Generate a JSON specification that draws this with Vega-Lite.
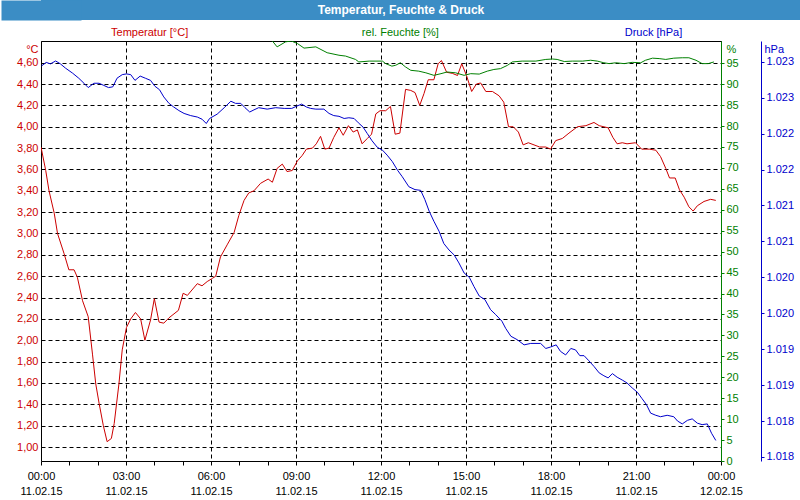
{
  "$schema": "https://vega.github.io/schema/vega-lite/v6.json",
  "padding": 0,
  "autosize": {"type": "pad"},
  "background": "white",
  "spacing": 0,
  "config": {
    "font": "Liberation Sans",
    "view": {"stroke": null},
    "axis": {"labelFont": "Liberation Sans", "labelFontSize": 11, "titleFont": "Liberation Sans", "titleFontSize": 11, "titleFontWeight": "normal"}
  },
  "datasets": {
    "temp": [
      {"t": "2015-02-11T00:00Z", "v": 3.81}, {"t": "2015-02-11T00:10Z", "v": 3.59}, {"t": "2015-02-11T00:17Z", "v": 3.40},
      {"t": "2015-02-11T00:28Z", "v": 3.19}, {"t": "2015-02-11T00:35Z", "v": 3.00}, {"t": "2015-02-11T00:49Z", "v": 2.81},
      {"t": "2015-02-11T00:59Z", "v": 2.66}, {"t": "2015-02-11T01:10Z", "v": 2.66}, {"t": "2015-02-11T01:17Z", "v": 2.59},
      {"t": "2015-02-11T01:28Z", "v": 2.37}, {"t": "2015-02-11T01:40Z", "v": 2.22}, {"t": "2015-02-11T01:49Z", "v": 1.87},
      {"t": "2015-02-11T01:56Z", "v": 1.59}, {"t": "2015-02-11T02:03Z", "v": 1.41}, {"t": "2015-02-11T02:12Z", "v": 1.20},
      {"t": "2015-02-11T02:20Z", "v": 1.05}, {"t": "2015-02-11T02:29Z", "v": 1.08}, {"t": "2015-02-11T02:35Z", "v": 1.22},
      {"t": "2015-02-11T02:45Z", "v": 1.59}, {"t": "2015-02-11T02:52Z", "v": 1.91}, {"t": "2015-02-11T03:01Z", "v": 2.12},
      {"t": "2015-02-11T03:10Z", "v": 2.20}, {"t": "2015-02-11T03:20Z", "v": 2.26}, {"t": "2015-02-11T03:31Z", "v": 2.20},
      {"t": "2015-02-11T03:40Z", "v": 2.00}, {"t": "2015-02-11T03:52Z", "v": 2.19}, {"t": "2015-02-11T04:00Z", "v": 2.39},
      {"t": "2015-02-11T04:10Z", "v": 2.17}, {"t": "2015-02-11T04:20Z", "v": 2.16}, {"t": "2015-02-11T04:31Z", "v": 2.21},
      {"t": "2015-02-11T04:51Z", "v": 2.28}, {"t": "2015-02-11T05:01Z", "v": 2.44}, {"t": "2015-02-11T05:10Z", "v": 2.42},
      {"t": "2015-02-11T05:31Z", "v": 2.53}, {"t": "2015-02-11T05:41Z", "v": 2.51}, {"t": "2015-02-11T05:52Z", "v": 2.55},
      {"t": "2015-02-11T06:03Z", "v": 2.58}, {"t": "2015-02-11T06:10Z", "v": 2.60}, {"t": "2015-02-11T06:20Z", "v": 2.78},
      {"t": "2015-02-11T06:35Z", "v": 2.90}, {"t": "2015-02-11T06:49Z", "v": 3.01}, {"t": "2015-02-11T06:59Z", "v": 3.17},
      {"t": "2015-02-11T07:10Z", "v": 3.31}, {"t": "2015-02-11T07:20Z", "v": 3.38}, {"t": "2015-02-11T07:31Z", "v": 3.40},
      {"t": "2015-02-11T07:45Z", "v": 3.47}, {"t": "2015-02-11T08:01Z", "v": 3.51}, {"t": "2015-02-11T08:10Z", "v": 3.48},
      {"t": "2015-02-11T08:20Z", "v": 3.61}, {"t": "2015-02-11T08:31Z", "v": 3.65}, {"t": "2015-02-11T08:41Z", "v": 3.58},
      {"t": "2015-02-11T08:52Z", "v": 3.59}, {"t": "2015-02-11T09:03Z", "v": 3.68}, {"t": "2015-02-11T09:13Z", "v": 3.73},
      {"t": "2015-02-11T09:22Z", "v": 3.79}, {"t": "2015-02-11T09:35Z", "v": 3.80}, {"t": "2015-02-11T09:43Z", "v": 3.84},
      {"t": "2015-02-11T09:52Z", "v": 3.91}, {"t": "2015-02-11T10:01Z", "v": 3.79}, {"t": "2015-02-11T10:10Z", "v": 3.80},
      {"t": "2015-02-11T10:20Z", "v": 3.90}, {"t": "2015-02-11T10:31Z", "v": 3.99}, {"t": "2015-02-11T10:40Z", "v": 3.92},
      {"t": "2015-02-11T10:51Z", "v": 4.01}, {"t": "2015-02-11T11:01Z", "v": 3.95}, {"t": "2015-02-11T11:10Z", "v": 3.97},
      {"t": "2015-02-11T11:20Z", "v": 3.84}, {"t": "2015-02-11T11:31Z", "v": 3.89}, {"t": "2015-02-11T11:40Z", "v": 3.93},
      {"t": "2015-02-11T11:49Z", "v": 4.12}, {"t": "2015-02-11T11:58Z", "v": 4.15}, {"t": "2015-02-11T12:10Z", "v": 4.15},
      {"t": "2015-02-11T12:20Z", "v": 4.19}, {"t": "2015-02-11T12:30Z", "v": 3.93}, {"t": "2015-02-11T12:40Z", "v": 3.94},
      {"t": "2015-02-11T12:52Z", "v": 4.35}, {"t": "2015-02-11T13:03Z", "v": 4.34}, {"t": "2015-02-11T13:12Z", "v": 4.32},
      {"t": "2015-02-11T13:22Z", "v": 4.20}, {"t": "2015-02-11T13:31Z", "v": 4.31}, {"t": "2015-02-11T13:40Z", "v": 4.44},
      {"t": "2015-02-11T13:52Z", "v": 4.44}, {"t": "2015-02-11T14:01Z", "v": 4.59}, {"t": "2015-02-11T14:08Z", "v": 4.62},
      {"t": "2015-02-11T14:19Z", "v": 4.51}, {"t": "2015-02-11T14:31Z", "v": 4.50}, {"t": "2015-02-11T14:42Z", "v": 4.48},
      {"t": "2015-02-11T14:51Z", "v": 4.59}, {"t": "2015-02-11T15:01Z", "v": 4.48}, {"t": "2015-02-11T15:12Z", "v": 4.33},
      {"t": "2015-02-11T15:22Z", "v": 4.40}, {"t": "2015-02-11T15:31Z", "v": 4.41}, {"t": "2015-02-11T15:42Z", "v": 4.33},
      {"t": "2015-02-11T15:56Z", "v": 4.33}, {"t": "2015-02-11T16:10Z", "v": 4.29}, {"t": "2015-02-11T16:20Z", "v": 4.23},
      {"t": "2015-02-11T16:30Z", "v": 4.00}, {"t": "2015-02-11T16:40Z", "v": 4.00}, {"t": "2015-02-11T16:51Z", "v": 3.95},
      {"t": "2015-02-11T17:01Z", "v": 3.83}, {"t": "2015-02-11T17:12Z", "v": 3.85}, {"t": "2015-02-11T17:24Z", "v": 3.83},
      {"t": "2015-02-11T17:36Z", "v": 3.81}, {"t": "2015-02-11T17:49Z", "v": 3.81}, {"t": "2015-02-11T17:59Z", "v": 3.79},
      {"t": "2015-02-11T18:10Z", "v": 3.87}, {"t": "2015-02-11T18:24Z", "v": 3.89}, {"t": "2015-02-11T18:38Z", "v": 3.94},
      {"t": "2015-02-11T18:56Z", "v": 4.00}, {"t": "2015-02-11T19:14Z", "v": 4.01}, {"t": "2015-02-11T19:31Z", "v": 4.04},
      {"t": "2015-02-11T19:42Z", "v": 4.01}, {"t": "2015-02-11T20:01Z", "v": 3.99}, {"t": "2015-02-11T20:11Z", "v": 3.90},
      {"t": "2015-02-11T20:20Z", "v": 3.84}, {"t": "2015-02-11T20:31Z", "v": 3.85}, {"t": "2015-02-11T20:41Z", "v": 3.84},
      {"t": "2015-02-11T20:59Z", "v": 3.85}, {"t": "2015-02-11T21:12Z", "v": 3.79}, {"t": "2015-02-11T21:28Z", "v": 3.79},
      {"t": "2015-02-11T21:42Z", "v": 3.78}, {"t": "2015-02-11T21:52Z", "v": 3.72}, {"t": "2015-02-11T22:03Z", "v": 3.61},
      {"t": "2015-02-11T22:11Z", "v": 3.52}, {"t": "2015-02-11T22:23Z", "v": 3.52}, {"t": "2015-02-11T22:32Z", "v": 3.41},
      {"t": "2015-02-11T22:42Z", "v": 3.34}, {"t": "2015-02-11T22:52Z", "v": 3.25}, {"t": "2015-02-11T23:01Z", "v": 3.21},
      {"t": "2015-02-11T23:10Z", "v": 3.26}, {"t": "2015-02-11T23:24Z", "v": 3.30}, {"t": "2015-02-11T23:38Z", "v": 3.32},
      {"t": "2015-02-11T23:49Z", "v": 3.31}
    ],
    "hum": [
      {"t": "2015-02-11T08:10Z", "v": 100.3}, {"t": "2015-02-11T08:20Z", "v": 98.9}, {"t": "2015-02-11T08:38Z", "v": 100.1},
      {"t": "2015-02-11T08:50Z", "v": 100.3}, {"t": "2015-02-11T09:03Z", "v": 99.7}, {"t": "2015-02-11T09:17Z", "v": 98.6},
      {"t": "2015-02-11T09:42Z", "v": 98.9}, {"t": "2015-02-11T10:06Z", "v": 97.5}, {"t": "2015-02-11T10:31Z", "v": 96.9},
      {"t": "2015-02-11T10:45Z", "v": 96.7}, {"t": "2015-02-11T11:06Z", "v": 95.9}, {"t": "2015-02-11T11:13Z", "v": 95.3},
      {"t": "2015-02-11T11:35Z", "v": 95.5}, {"t": "2015-02-11T12:03Z", "v": 95.5}, {"t": "2015-02-11T12:10Z", "v": 94.9},
      {"t": "2015-02-11T12:23Z", "v": 94.3}, {"t": "2015-02-11T12:31Z", "v": 94.5}, {"t": "2015-02-11T12:41Z", "v": 95.1},
      {"t": "2015-02-11T12:52Z", "v": 94.1}, {"t": "2015-02-11T13:03Z", "v": 93.3}, {"t": "2015-02-11T13:20Z", "v": 93.1},
      {"t": "2015-02-11T13:35Z", "v": 92.7}, {"t": "2015-02-11T13:52Z", "v": 92.1}, {"t": "2015-02-11T14:07Z", "v": 92.5},
      {"t": "2015-02-11T14:20Z", "v": 92.9}, {"t": "2015-02-11T14:38Z", "v": 92.7}, {"t": "2015-02-11T14:56Z", "v": 92.1},
      {"t": "2015-02-11T15:10Z", "v": 92.5}, {"t": "2015-02-11T15:28Z", "v": 92.4}, {"t": "2015-02-11T15:45Z", "v": 93.1},
      {"t": "2015-02-11T15:59Z", "v": 93.5}, {"t": "2015-02-11T16:13Z", "v": 93.7}, {"t": "2015-02-11T16:28Z", "v": 94.5},
      {"t": "2015-02-11T16:38Z", "v": 95.3}, {"t": "2015-02-11T16:59Z", "v": 95.5}, {"t": "2015-02-11T17:28Z", "v": 95.5},
      {"t": "2015-02-11T17:49Z", "v": 95.9}, {"t": "2015-02-11T18:03Z", "v": 96.0}, {"t": "2015-02-11T18:13Z", "v": 95.9},
      {"t": "2015-02-11T18:28Z", "v": 95.4}, {"t": "2015-02-11T18:45Z", "v": 95.5}, {"t": "2015-02-11T19:07Z", "v": 95.5},
      {"t": "2015-02-11T19:24Z", "v": 95.7}, {"t": "2015-02-11T19:38Z", "v": 95.5}, {"t": "2015-02-11T19:52Z", "v": 95.1},
      {"t": "2015-02-11T20:03Z", "v": 94.9}, {"t": "2015-02-11T20:17Z", "v": 95.1}, {"t": "2015-02-11T20:35Z", "v": 94.9},
      {"t": "2015-02-11T20:52Z", "v": 95.2}, {"t": "2015-02-11T21:10Z", "v": 95.1}, {"t": "2015-02-11T21:20Z", "v": 95.7},
      {"t": "2015-02-11T21:35Z", "v": 96.2}, {"t": "2015-02-11T21:49Z", "v": 96.1}, {"t": "2015-02-11T22:03Z", "v": 95.9},
      {"t": "2015-02-11T22:20Z", "v": 96.2}, {"t": "2015-02-11T22:38Z", "v": 96.3}, {"t": "2015-02-11T22:52Z", "v": 96.3},
      {"t": "2015-02-11T23:07Z", "v": 95.7}, {"t": "2015-02-11T23:20Z", "v": 94.9}, {"t": "2015-02-11T23:33Z", "v": 94.9},
      {"t": "2015-02-11T23:45Z", "v": 95.3}
    ],
    "pres": [
      {"t": "2015-02-11T00:01Z", "v": 1.02294}, {"t": "2015-02-11T00:11Z", "v": 1.02299}, {"t": "2015-02-11T00:20Z", "v": 1.02297},
      {"t": "2015-02-11T00:31Z", "v": 1.02301}, {"t": "2015-02-11T00:41Z", "v": 1.02297}, {"t": "2015-02-11T00:52Z", "v": 1.02291},
      {"t": "2015-02-11T01:07Z", "v": 1.02284}, {"t": "2015-02-11T01:20Z", "v": 1.02277}, {"t": "2015-02-11T01:31Z", "v": 1.02270},
      {"t": "2015-02-11T01:40Z", "v": 1.02264}, {"t": "2015-02-11T01:52Z", "v": 1.02270}, {"t": "2015-02-11T02:03Z", "v": 1.02270},
      {"t": "2015-02-11T02:13Z", "v": 1.02267}, {"t": "2015-02-11T02:23Z", "v": 1.02264}, {"t": "2015-02-11T02:32Z", "v": 1.02265},
      {"t": "2015-02-11T02:41Z", "v": 1.02277}, {"t": "2015-02-11T02:52Z", "v": 1.02282}, {"t": "2015-02-11T03:01Z", "v": 1.02283},
      {"t": "2015-02-11T03:10Z", "v": 1.02282}, {"t": "2015-02-11T03:19Z", "v": 1.02274}, {"t": "2015-02-11T03:30Z", "v": 1.02280},
      {"t": "2015-02-11T03:41Z", "v": 1.02277}, {"t": "2015-02-11T03:52Z", "v": 1.02274}, {"t": "2015-02-11T04:01Z", "v": 1.02266},
      {"t": "2015-02-11T04:11Z", "v": 1.02261}, {"t": "2015-02-11T04:20Z", "v": 1.02251}, {"t": "2015-02-11T04:31Z", "v": 1.02242},
      {"t": "2015-02-11T04:41Z", "v": 1.02237}, {"t": "2015-02-11T04:52Z", "v": 1.02232}, {"t": "2015-02-11T05:03Z", "v": 1.02228},
      {"t": "2015-02-11T05:17Z", "v": 1.02225}, {"t": "2015-02-11T05:31Z", "v": 1.02223}, {"t": "2015-02-11T05:41Z", "v": 1.02220},
      {"t": "2015-02-11T05:50Z", "v": 1.02214}, {"t": "2015-02-11T05:57Z", "v": 1.02221}, {"t": "2015-02-11T06:13Z", "v": 1.02227},
      {"t": "2015-02-11T06:28Z", "v": 1.02236}, {"t": "2015-02-11T06:42Z", "v": 1.02245}, {"t": "2015-02-11T06:52Z", "v": 1.02242},
      {"t": "2015-02-11T07:03Z", "v": 1.02242}, {"t": "2015-02-11T07:12Z", "v": 1.02236}, {"t": "2015-02-11T07:22Z", "v": 1.02230},
      {"t": "2015-02-11T07:31Z", "v": 1.02233}, {"t": "2015-02-11T07:41Z", "v": 1.02236}, {"t": "2015-02-11T07:59Z", "v": 1.02234},
      {"t": "2015-02-11T08:17Z", "v": 1.02236}, {"t": "2015-02-11T08:35Z", "v": 1.02235}, {"t": "2015-02-11T08:51Z", "v": 1.02235},
      {"t": "2015-02-11T09:01Z", "v": 1.02238}, {"t": "2015-02-11T09:12Z", "v": 1.02241}, {"t": "2015-02-11T09:22Z", "v": 1.02237},
      {"t": "2015-02-11T09:31Z", "v": 1.02235}, {"t": "2015-02-11T09:42Z", "v": 1.02234}, {"t": "2015-02-11T09:59Z", "v": 1.02234},
      {"t": "2015-02-11T10:10Z", "v": 1.02228}, {"t": "2015-02-11T10:20Z", "v": 1.02225}, {"t": "2015-02-11T10:31Z", "v": 1.02224},
      {"t": "2015-02-11T10:42Z", "v": 1.02221}, {"t": "2015-02-11T10:52Z", "v": 1.02222}, {"t": "2015-02-11T11:03Z", "v": 1.02221},
      {"t": "2015-02-11T11:12Z", "v": 1.02215}, {"t": "2015-02-11T11:22Z", "v": 1.02209}, {"t": "2015-02-11T11:31Z", "v": 1.02200},
      {"t": "2015-02-11T11:41Z", "v": 1.02190}, {"t": "2015-02-11T11:52Z", "v": 1.02181}, {"t": "2015-02-11T12:03Z", "v": 1.02177},
      {"t": "2015-02-11T12:13Z", "v": 1.02170}, {"t": "2015-02-11T12:24Z", "v": 1.02161}, {"t": "2015-02-11T12:35Z", "v": 1.02149},
      {"t": "2015-02-11T12:45Z", "v": 1.02140}, {"t": "2015-02-11T12:59Z", "v": 1.02126}, {"t": "2015-02-11T13:12Z", "v": 1.02122},
      {"t": "2015-02-11T13:24Z", "v": 1.02121}, {"t": "2015-02-11T13:33Z", "v": 1.02108}, {"t": "2015-02-11T13:42Z", "v": 1.02092},
      {"t": "2015-02-11T13:52Z", "v": 1.02078}, {"t": "2015-02-11T14:03Z", "v": 1.02064}, {"t": "2015-02-11T14:13Z", "v": 1.02047},
      {"t": "2015-02-11T14:24Z", "v": 1.02038}, {"t": "2015-02-11T14:35Z", "v": 1.02031}, {"t": "2015-02-11T14:45Z", "v": 1.02020},
      {"t": "2015-02-11T14:56Z", "v": 1.02006}, {"t": "2015-02-11T15:07Z", "v": 1.02000}, {"t": "2015-02-11T15:17Z", "v": 1.01987},
      {"t": "2015-02-11T15:28Z", "v": 1.01974}, {"t": "2015-02-11T15:40Z", "v": 1.01969}, {"t": "2015-02-11T15:52Z", "v": 1.01955},
      {"t": "2015-02-11T16:03Z", "v": 1.01948}, {"t": "2015-02-11T16:16Z", "v": 1.01939}, {"t": "2015-02-11T16:24Z", "v": 1.01929},
      {"t": "2015-02-11T16:35Z", "v": 1.01918}, {"t": "2015-02-11T16:49Z", "v": 1.01913}, {"t": "2015-02-11T17:03Z", "v": 1.01906},
      {"t": "2015-02-11T17:17Z", "v": 1.01908}, {"t": "2015-02-11T17:38Z", "v": 1.01908}, {"t": "2015-02-11T17:49Z", "v": 1.01901},
      {"t": "2015-02-11T17:59Z", "v": 1.01903}, {"t": "2015-02-11T18:11Z", "v": 1.01906}, {"t": "2015-02-11T18:20Z", "v": 1.01897},
      {"t": "2015-02-11T18:31Z", "v": 1.01892}, {"t": "2015-02-11T18:42Z", "v": 1.01901}, {"t": "2015-02-11T18:52Z", "v": 1.01899},
      {"t": "2015-02-11T19:01Z", "v": 1.01891}, {"t": "2015-02-11T19:10Z", "v": 1.01891}, {"t": "2015-02-11T19:20Z", "v": 1.01884},
      {"t": "2015-02-11T19:31Z", "v": 1.01876}, {"t": "2015-02-11T19:42Z", "v": 1.01867}, {"t": "2015-02-11T19:52Z", "v": 1.01863},
      {"t": "2015-02-11T20:01Z", "v": 1.01860}, {"t": "2015-02-11T20:10Z", "v": 1.01866}, {"t": "2015-02-11T20:20Z", "v": 1.01861},
      {"t": "2015-02-11T20:31Z", "v": 1.01857}, {"t": "2015-02-11T20:41Z", "v": 1.01853}, {"t": "2015-02-11T20:52Z", "v": 1.01846},
      {"t": "2015-02-11T21:03Z", "v": 1.01840}, {"t": "2015-02-11T21:13Z", "v": 1.01831}, {"t": "2015-02-11T21:22Z", "v": 1.01823},
      {"t": "2015-02-11T21:31Z", "v": 1.01811}, {"t": "2015-02-11T21:42Z", "v": 1.01808}, {"t": "2015-02-11T21:52Z", "v": 1.01806},
      {"t": "2015-02-11T22:06Z", "v": 1.01808}, {"t": "2015-02-11T22:20Z", "v": 1.01806}, {"t": "2015-02-11T22:28Z", "v": 1.01800},
      {"t": "2015-02-11T22:38Z", "v": 1.01796}, {"t": "2015-02-11T22:49Z", "v": 1.01801}, {"t": "2015-02-11T22:59Z", "v": 1.01803},
      {"t": "2015-02-11T23:10Z", "v": 1.01797}, {"t": "2015-02-11T23:20Z", "v": 1.01795}, {"t": "2015-02-11T23:31Z", "v": 1.01796},
      {"t": "2015-02-11T23:40Z", "v": 1.01783}, {"t": "2015-02-11T23:49Z", "v": 1.01773}
    ]
  },
  "vconcat": [
    {
      "width": 760,
      "height": 20,
      "view": {"fill": "#3b8dc5", "stroke": null},
      "data": {"values": [{"label": "Temperatur, Feuchte & Druck", "k": 0}]},
      "mark": {"type": "text", "color": "white", "fontWeight": "bold", "fontSize": 12, "font": "Liberation Sans", "baseline": "middle", "align": "center", "dx": -20},
      "encoding": {
        "text": {"field": "label"},
        "y": {
          "field": "k", "type": "quantitative",
          "scale": {"domain": [-1, 1], "nice": false, "zero": false},
          "axis": {"orient": "left", "title": null, "labels": false, "ticks": false, "grid": false, "domain": true, "domainColor": "#3b8dc5", "domainWidth": 80, "domainCap": "butt", "minExtent": 40, "maxExtent": 40}
        }
      }
    },
    {
      "width": 680,
      "height": 420,
      "view": {"stroke": "black", "strokeWidth": 1},
      "resolve": {"scale": {"y": "independent"}, "axis": {"x": "independent"}},
      "layer": [
        {
          "data": {"name": "temp"},
          "mark": {"type": "line", "color": "#cc0000", "strokeWidth": 1, "clip": true},
          "encoding": {
            "x": {
              "field": "t", "type": "temporal",
              "scale": {"type": "utc", "domain": [{"year": 2015, "month": 2, "date": 11, "hours": 0, "utc": true}, {"year": 2015, "month": 2, "date": 12, "hours": 0, "utc": true}]},
              "axis": {
                "orient": "bottom", "title": null,
                "values": [
                  {"year": 2015, "month": 2, "date": 11, "hours": 0, "utc": true}, {"year": 2015, "month": 2, "date": 11, "hours": 1, "utc": true},
                  {"year": 2015, "month": 2, "date": 11, "hours": 2, "utc": true}, {"year": 2015, "month": 2, "date": 11, "hours": 3, "utc": true},
                  {"year": 2015, "month": 2, "date": 11, "hours": 4, "utc": true}, {"year": 2015, "month": 2, "date": 11, "hours": 5, "utc": true},
                  {"year": 2015, "month": 2, "date": 11, "hours": 6, "utc": true}, {"year": 2015, "month": 2, "date": 11, "hours": 7, "utc": true},
                  {"year": 2015, "month": 2, "date": 11, "hours": 8, "utc": true}, {"year": 2015, "month": 2, "date": 11, "hours": 9, "utc": true},
                  {"year": 2015, "month": 2, "date": 11, "hours": 10, "utc": true}, {"year": 2015, "month": 2, "date": 11, "hours": 11, "utc": true},
                  {"year": 2015, "month": 2, "date": 11, "hours": 12, "utc": true}, {"year": 2015, "month": 2, "date": 11, "hours": 13, "utc": true},
                  {"year": 2015, "month": 2, "date": 11, "hours": 14, "utc": true}, {"year": 2015, "month": 2, "date": 11, "hours": 15, "utc": true},
                  {"year": 2015, "month": 2, "date": 11, "hours": 16, "utc": true}, {"year": 2015, "month": 2, "date": 11, "hours": 17, "utc": true},
                  {"year": 2015, "month": 2, "date": 11, "hours": 18, "utc": true}, {"year": 2015, "month": 2, "date": 11, "hours": 19, "utc": true},
                  {"year": 2015, "month": 2, "date": 11, "hours": 20, "utc": true}, {"year": 2015, "month": 2, "date": 11, "hours": 21, "utc": true},
                  {"year": 2015, "month": 2, "date": 11, "hours": 22, "utc": true}, {"year": 2015, "month": 2, "date": 11, "hours": 23, "utc": true},
                  {"year": 2015, "month": 2, "date": 12, "hours": 0, "utc": true}
                ],
                "labelExpr": "utchours(datum.value) % 3 == 0 ? [utcFormat(datum.value, '%H:%M'), utcFormat(datum.value, '%d.%m.%y')] : ''",
                "labelOverlap": false, "labelFlush": false, "labelBound": false,
                "labelAngle": 0, "labelAlign": "center", "labelBaseline": "top", "labelLineHeight": 15, "labelPadding": 5, "labelColor": "black",
                "ticks": true, "tickSize": 4, "tickColor": "black",
                "domain": false,
                "grid": true, "gridColor": "black", "gridDash": [4, 3],
                "gridOpacity": {"condition": {"test": "utchours(datum.value) % 3 == 0", "value": 1}, "value": 0}
              }
            },
            "y": {
              "field": "v", "type": "quantitative",
              "scale": {"domain": [0.869, 4.803], "nice": false, "zero": false},
              "axis": {
                "orient": "left",
                "values": [1.0, 1.2, 1.4, 1.6, 1.8, 2.0, 2.2, 2.4, 2.6, 2.8, 3.0, 3.2, 3.4, 3.6, 3.8, 4.0, 4.2, 4.4, 4.6],
                "labelExpr": "replace(format(datum.value, '.2f'), '.', ',')",
                "labelColor": "#cc0000", "ticks": false, "labelPadding": 3, "domain": false,
                "grid": true, "gridColor": "black", "gridDash": [4, 3],
                "title": "°C", "titleColor": "#cc0000", "titleAngle": 0, "titleAlign": "right", "titleBaseline": "top", "titleX": -3, "titleY": 2,
                "minExtent": 40, "maxExtent": 40
              }
            }
          }
        },
        {
          "data": {"name": "hum"},
          "mark": {"type": "line", "color": "#008000", "strokeWidth": 1, "clip": true},
          "encoding": {
            "x": {
              "field": "t", "type": "temporal",
              "axis": {
                "orient": "top", "title": null,
                "values": [{"year": 2015, "month": 2, "date": 11, "hours": 3, "minutes": 49, "utc": true}, {"year": 2015, "month": 2, "date": 11, "hours": 12, "minutes": 40, "utc": true}, {"year": 2015, "month": 2, "date": 11, "hours": 21, "minutes": 36, "utc": true}],
                "labelExpr": "utchours(datum.value) < 6 ? 'Temperatur [°C]' : utchours(datum.value) < 18 ? 'rel. Feuchte [%]' : 'Druck [hPa]'",
                "labelColor": {"condition": [{"test": "utchours(datum.value) < 6", "value": "#cc0000"}, {"test": "utchours(datum.value) < 18", "value": "#008000"}], "value": "#0000cc"},
                "ticks": false, "domain": false, "grid": false,
                "labelPadding": 4, "labelOverlap": false, "labelFlush": false, "labelBound": false, "labelAngle": 0, "labelAlign": "center",
                "minExtent": 20, "maxExtent": 20
              }
            },
            "y": {
              "field": "v", "type": "quantitative",
              "scale": {"domain": [0, 100.3], "nice": false, "zero": false},
              "axis": {
                "orient": "right",
                "values": [0, 5, 10, 15, 20, 25, 30, 35, 40, 45, 50, 55, 60, 65, 70, 75, 80, 85, 90, 95],
                "labelColor": "#008000", "domain": true, "domainColor": "#008000", "ticks": true, "tickColor": "#008000", "tickSize": 3, "labelPadding": 2, "grid": false,
                "title": "%", "titleColor": "#008000", "titleAngle": 0, "titleAlign": "left", "titleBaseline": "top", "titleX": 5, "titleY": 2
              }
            }
          }
        },
        {
          "data": {"name": "pres"},
          "mark": {"type": "line", "color": "#0000cc", "strokeWidth": 1, "clip": true},
          "encoding": {
            "x": {"field": "t", "type": "temporal", "axis": null},
            "y": {
              "field": "v", "type": "quantitative",
              "scale": {"domain": [1.017444, 1.023288], "nice": false, "zero": false},
              "axis": {
                "orient": "right", "offset": 40,
                "values": [1.0175, 1.018, 1.0185, 1.019, 1.0195, 1.02, 1.0205, 1.021, 1.0215, 1.022, 1.0225, 1.023],
                "labelExpr": "format(datum.value + 0.00001, '.3f')",
                "labelColor": "#0000cc", "domain": true, "domainColor": "#0000cc", "ticks": true, "tickColor": "#0000cc", "tickSize": 3, "labelPadding": 2, "grid": false,
                "title": "hPa", "titleColor": "#0000cc", "titleAngle": 0, "titleAlign": "left", "titleBaseline": "top", "titleX": 3, "titleY": 2
              }
            }
          }
        }
      ]
    }
  ]
}
